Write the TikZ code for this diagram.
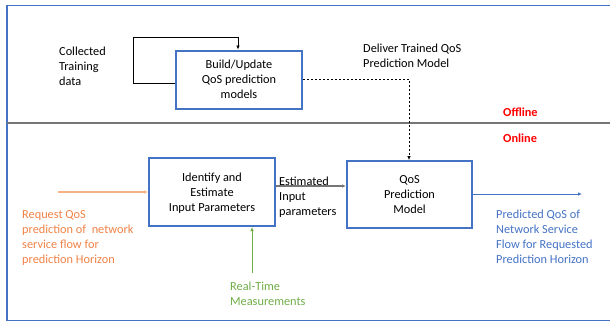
\documentclass[tikz,border=0pt]{standalone}
\usepackage{fontspec}
\setmainfont{Carlito}
\usetikzlibrary{arrows.meta}
\definecolor{boxblue}{RGB}{68,114,196}
\definecolor{txtorange}{RGB}{240,130,70}
\definecolor{lineorange}{RGB}{244,177,131}
\definecolor{txtgreen}{RGB}{112,173,71}
\definecolor{divgray}{RGB}{118,118,118}
\begin{document}
\begin{tikzpicture}[x=1pt,y=-1pt,
  procbox/.style={draw=boxblue,line width=2pt,inner sep=0pt,align=center,font=\fontsize{12.3}{15}\selectfont},
  plain/.style={inner sep=0pt,align=left,anchor=north west,font=\fontsize{12.3}{15}\selectfont},
  tip/.style={-{Latex[length=4pt,width=3.5pt]}},
  every node/.style={text depth=0pt}
]
\useasboundingbox (0,0) rectangle (610,322);
% frame
\draw[boxblue,line width=1.6pt] (614,5.5) -- (7,5.5) -- (7,320.5) -- (614,320.5);
\draw[divgray,line width=1.5pt] (7,123) -- (614,123);
% boxes
\node[procbox,minimum width=126pt,minimum height=58pt] (build) at (239,79.5) {Build/Update\\QoS prediction\\models};
\node[procbox,minimum width=126pt,minimum height=68pt] (ident) at (212,192) {Identify and\\Estimate\\Input Parameters};
\node[procbox,minimum width=125pt,minimum height=67pt] (qos) at (409.5,194.5) {QoS\\Prediction\\Model};
% coordinates
\coordinate (loopA) at (133,83);
\coordinate (loopB) at (133,37);
\coordinate (loopC) at (238,37);
\coordinate (dashA) at (409,79);
\coordinate (reqS) at (58,192);
\coordinate (rtS) at (252,273);
\coordinate (outE) at (582,194);
% connectors
\draw[black,line width=0.6pt,tip] (build.west |- loopA) -- (loopA) -- (loopB) -- (loopC) -- (loopC |- build.north);
\draw[black,line width=0.6pt,dashed,dash pattern=on 2pt off 2pt,tip] (build.east |- dashA) -- (dashA) -- (qos.north -| dashA);
\draw[divgray,line width=1.4pt,-{Latex[length=4pt,width=3.5pt]}] (ident.east |- 0,186) -- (qos.west |- 0,186);
\draw[lineorange,line width=1.2pt,tip] (reqS) -- (ident.west |- reqS);
\draw[txtgreen,line width=0.8pt,tip] (rtS) -- (ident.south -| rtS);
\draw[boxblue,line width=0.8pt,tip] (qos.east |- outE) -- (outE);
% texts
\node[plain] (coll) at (59,47) {Collected\\Training\\data};
\node[plain] (deliv) at (363,44) {Deliver Trained QoS\\Prediction Model};
\node[plain,text=red,font=\fontsize{12.3}{15}\selectfont\bfseries] (off) at (503,108) {Offline};
\node[plain,text=red,font=\fontsize{12.3}{15}\selectfont\bfseries] (on) at (503,134) {Online};
\node[plain] (estp) at (279,177) {Estimated\\Input\\parameters};
\node[plain,text=txtorange] (req) at (22,210) {Request QoS\\prediction of~ network\\service flow for\\prediction Horizon};
\node[plain,text=txtgreen] (rt) at (230,282) {Real-Time\\Measurements};
\node[plain,text=boxblue] (pred) at (496,210) {Predicted QoS of\\Network Service\\Flow for Requested\\Prediction Horizon};
\end{tikzpicture}
\end{document}
